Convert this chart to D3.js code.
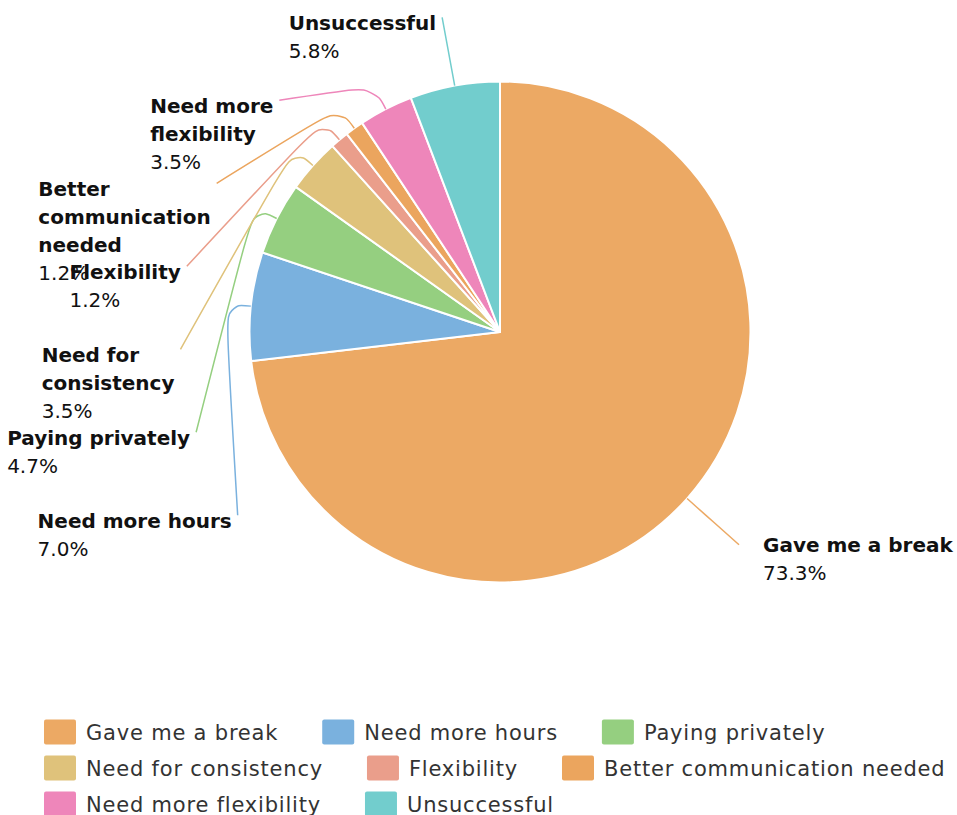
<!DOCTYPE html>
<html>
<head>
<meta charset="utf-8">
<script src="https://cdn.jsdelivr.net/npm/d3@7/dist/d3.min.js"></script>
<style>
  body { margin: 0; background: #fff; }
  svg { display: block; }
</style>
</head>
<body>
<svg id="chart" width="957" height="815"></svg>
<script>
// Reasons given, share of responses (%)
const categories = [
  "Gave me a break",
  "Need more hours",
  "Paying privately",
  "Need for consistency",
  "Flexibility",
  "Better communication needed",
  "Need more flexibility",
  "Unsuccessful"
];
const shares = [73.3, 7.0, 4.7, 3.5, 1.2, 1.2, 3.5, 5.8];
const colours = ["#eca964", "#7ab1de", "#95cf80", "#dfc27b", "#ea9e8b", "#eba55e", "#ee86ba", "#72cdcd"];

// Layout
const cx = 500, cy = 332, R = 250.5;
const guideLen1 = 26;     // first leg of the label line, radial
const guideR = 320;       // labels sit on this circle
const labelStep = 83;     // minimum vertical distance between stacked labels
const smooth = 0.5;
const labelFont = '"DejaVu Sans", Verdana, sans-serif';
const labelSize = 20, labelLineH = 28, labelMaxW = 200;

const svg = d3.select("#chart");
const data = categories.map((name, i) => ({ name, value: shares[i], colour: colours[i] }));

const pie = d3.pie().value(d => d.value).sort(null);
const arcs = pie(data);
const arc = d3.arc().innerRadius(0).outerRadius(R);

const root = svg.append("g").attr("transform", `translate(${cx},${cy})`);

root.selectAll("path.slice")
  .data(arcs)
  .join("path")
  .attr("class", "slice")
  .attr("d", arc)
  .attr("fill", d => d.data.colour)
  .attr("stroke", "#fff")
  .attr("stroke-width", 2)
  .attr("stroke-linejoin", "round");

// ---- label placement ----
const midAngle = a => (a.startAngle + a.endAngle) / 2;
const polar = (r, ang) => [Math.sin(ang) * r, -Math.cos(ang) * r];

const items = arcs.map(a => {
  const m = midAngle(a);
  return {
    a, m,
    left: Math.sin(m) < 0,
    p0: polar(R, m),
    p1: polar(R + guideLen1, m),
    y: polar(guideR, m)[1]
  };
});

// stack labels downwards on each side so they do not collide
[true, false].forEach(side => {
  const s = items.filter(d => d.left === side).sort((p, q) => p.y - q.y);
  for (let i = 1; i < s.length; i++) s[i].y = Math.max(s[i].y, s[i - 1].y + labelStep);
});
items.forEach(d => {
  const dx = Math.sqrt(Math.max(0, guideR * guideR - d.y * d.y));
  d.p2 = [d.left ? -dx : dx, d.y];
});

const lerp = (a, b, t) => [a[0] + (b[0] - a[0]) * t, a[1] + (b[1] - a[1]) * t];
function guidePath(p0, p1, p2) {
  const p = d3.path();
  p.moveTo(p0[0], p0[1]);
  const l1 = Math.hypot(p1[0] - p0[0], p1[1] - p0[1]);
  const l2 = Math.hypot(p2[0] - p1[0], p2[1] - p1[1]);
  const mv = Math.min(l1, l2) * smooth;
  const m0 = lerp(p1, p0, mv / l1), m2 = lerp(p1, p2, mv / l2), m1 = lerp(m0, m2, 0.5);
  p.bezierCurveTo(m0[0], m0[1], m0[0], m0[1], m1[0], m1[1]);
  p.bezierCurveTo(m2[0], m2[1], m2[0], m2[1], p2[0], p2[1]);
  return p.toString();
}

root.selectAll("path.guide")
  .data(items)
  .join("path")
  .attr("class", "guide")
  .attr("d", d => guidePath(d.p0, d.p1, d.p2))
  .attr("fill", "none")
  .attr("stroke", d => d.a.data.colour)
  .attr("stroke-width", 1.5);

// text measuring helper
const probe = svg.append("text").attr("font-family", labelFont).attr("font-size", labelSize)
  .attr("visibility", "hidden");
function textW(str, weight) {
  probe.attr("font-weight", weight).text(str);
  return probe.node().getComputedTextLength();
}
function wrapWords(str, maxW) {
  const words = str.split(" ");
  const lines = [];
  let cur = "";
  words.forEach(w => {
    const t = cur ? cur + " " + w : w;
    if (cur && textW(t, "bold") > maxW) { lines.push(cur); cur = w; }
    else cur = t;
  });
  if (cur) lines.push(cur);
  return lines;
}

const fmt = d3.format(".1f");
items.forEach(d => {
  const nameLines = wrapWords(d.a.data.name, labelMaxW);
  const pct = fmt(d.a.data.value) + "%";
  const widths = nameLines.map(l => textW(l, "bold")).concat([textW(pct, "normal")]);
  const boxW = d3.max(widths);
  const x0 = d.left ? d.p2[0] - 6 - boxW : d.p2[0] + 24;
  const y0 = d.p2[1] + (d.left ? 13 : 7);
  const t = root.append("text")
    .attr("font-family", labelFont)
    .attr("font-size", labelSize)
    .attr("fill", "#111");
  nameLines.forEach((l, i) => {
    t.append("tspan").attr("x", x0).attr("y", y0 + i * labelLineH)
      .attr("font-weight", "bold").text(l);
  });
  t.append("tspan").attr("x", x0).attr("y", y0 + nameLines.length * labelLineH)
    .attr("font-weight", "normal").text(pct);
});
probe.remove();

// ---- legend ----
const legendLeft = 44, legendRight = 955, legendTop = 732, legendRowH = 36;
const markW = 32, markH = 25, markGap = 10, itemGap = 44;
const legend = svg.append("g").attr("class", "legend");
let lx = legendLeft, row = 0;
data.forEach(d => {
  const item = legend.append("g");
  const txt = item.append("text")
    .attr("font-family", labelFont)
    .attr("font-size", 21)
    .attr("letter-spacing", 0.8)
    .attr("fill", "#333")
    .text(d.name);
  const w = markW + markGap + txt.node().getComputedTextLength();
  if (lx > legendLeft && lx + w > legendRight) { lx = legendLeft; row++; }
  const yc = legendTop + row * legendRowH;
  item.insert("rect", "text")
    .attr("x", lx).attr("y", yc - markH / 2)
    .attr("width", markW).attr("height", markH)
    .attr("rx", 2).attr("fill", d.colour);
  txt.attr("x", lx + markW + markGap).attr("y", yc + 7.5);
  lx += w + itemGap;
});
</script>
</body>
</html>
